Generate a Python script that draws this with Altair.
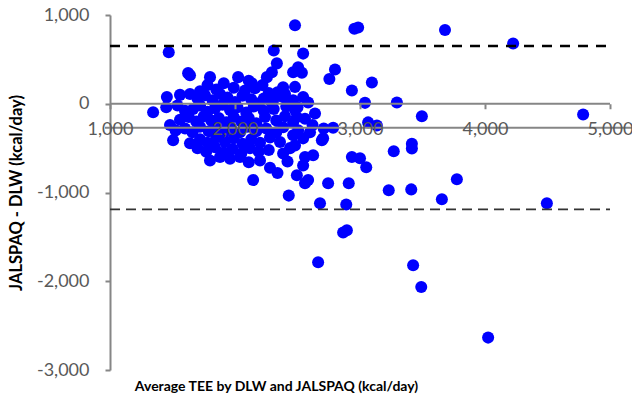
import altair as alt
import pandas as pd

# Bland-Altman data: average TEE (x) and difference JALSPAQ - DLW (y)
avg_tee = [
    2480, 2955, 2985, 3680, 4225, 4785, 3495, 3295, 3095, 2935, 3040, 2800, 2755, 2545, 2310,
    1470, 1625, 3065, 3135, 2785, 2695, 2640, 3270, 3415, 3415, 2935, 3000, 3050, 2745, 2910,
    3230, 3410, 3775, 3655, 2680, 2890, 2495, 2560, 2585, 2560, 2625, 2545, 2430, 2465, 2440,
    2705, 2865, 2895, 2665, 3425, 3490, 4025, 4495, 2145,
    2255, 2295, 2335, 2465, 2505, 2535, 2385, 2480, 2305, 2385, 2465, 2545, 2585, 2480, 2135,
    2160, 2025, 1800, 1640, 2500, 2545, 2465, 2505, 2480, 2600, 2620, 2710, 2495,
    1720, 1780, 1850, 1910, 1990, 2080, 2110, 2220, 2270, 2340, 2400, 2290, 2230,
    1455, 1560, 1640, 1700, 1760, 1820, 1880, 1940, 2000, 2060, 2130, 2190,
    1345, 1450, 1540, 1600, 1665, 1720, 1780, 1840, 1900, 1960, 2020, 2090, 2150, 2230, 2310, 2410,
    1480, 1560, 1630, 1690, 1750, 1810, 1870, 1930, 1990, 2050, 2110, 2170, 2240, 2330, 2400, 2560,
    1525, 1600, 1660, 1720, 1790, 1850, 1910, 1970, 2040, 2100, 2170, 2250, 2330, 2385,
    1505, 1640, 1720, 1780, 1850, 1920, 1990, 2060, 2130, 2200, 2280, 2360,
    1700, 1770, 1840, 1910, 1980, 2050, 2120, 2190, 2270, 2385,
    1800, 1880, 1960, 2040, 2110, 2200, 2280, 2340, 2420,
]
diff = [
    885, 845, 860, 830, 680, -120, -140, 15, 240, 150, 10, 385, 280, 565, 600,
    580, 345, -210, -245, -270, -410, -110, -535, -450, -505, -600, -615, -715, -895, -895,
    -975, -965, -850, -1075, -1120, -1135, -805, -895, -860, -600, -580, -695, -1035, -355, -500,
    -390, -1450, -1425, -1785, -1820, -2065, -2635, -1120, -860,
    300, 355, 455, 355, 410, 350, 185, 190, 40, 75, 40, 75, 15, -70, 230,
    175, 300, 300, 320, -40, -390, -210, -300, -470, -320, -240, -280, -150,
    140, 210, 160, 230, 180, 150, 260, 210, 120, 130, 110, 20, 60,
    75, 100, 110, 60, 95, 40, 110, 70, 20, 90, 50, 5,
    -95, -40, -20, -80, -60, -20, -90, -50, -10, -70, -40, -100, -30, -80, -60, -30,
    -240, -180, -150, -200, -140, -190, -160, -210, -150, -200, -160, -220, -150, -190, -140, -170,
    -300, -280, -320, -260, -310, -270, -330, -280, -320, -260, -310, -280, -320, -265,
    -410, -445, -400, -440, -380, -430, -390, -450, -400, -440, -380, -430,
    -500, -540, -490, -550, -510, -560, -500, -540, -520, -560,
    -640, -600, -620, -600, -660, -640, -720, -780, -650,
]

upper_loa = 651
lower_loa = -1191
mean_bias = -270
loa_x = [1000, 5000]
bias_x = [960, 5176]
x_ticks = [1000, 2000, 3000, 4000, 5000]
y_ticks = [-3000, -2000, -1000, 0, 1000]

pts = pd.DataFrame({"x": avg_tee, "y": diff})
rules = pd.DataFrame({
    "kind": ["zero", "bias", "upper", "lower"],
    "x": [loa_x[0], bias_x[0], loa_x[0], loa_x[0]],
    "x2": [loa_x[1], bias_x[1], loa_x[1], loa_x[1]],
    "y": [0, mean_bias, upper_loa, lower_loa],
})

# x scale spans the bias line's extent at 0.125 px per kcal/day
W, H = 527, 355
FONT = "Lato"
GREY = "#868686"
neg_fix = "datum.value < 0 ? '-' + format(-datum.value, ',') : format(datum.value, ',')"

xscale = alt.Scale(domain=bias_x, nice=False, zero=False)
yscale = alt.Scale(domain=[-3000, 1000], nice=False, zero=False)

xaxis = alt.Axis(
    values=x_ticks, orient="bottom", offset=-(H * 3000 / 4000), domain=False,
    ticks=True, tickSize=5, tickColor=GREY, tickWidth=2, grid=False,
    labelExpr=neg_fix, labelFont=FONT, labelFontSize=18, labelColor="#595959",
    labelPadding=12, labelFlush=False, labelOverlap=False,
    title="Average TEE by DLW and JALSPAQ (kcal/day)", titleFont=FONT,
    titleFontSize=14, titleFontWeight="bold", titleColor="#000000",
    titleX=171, titleY=283, titleAlign="center", titleBaseline="middle", zindex=1,
)
yaxis = alt.Axis(
    values=y_ticks, offset=-5, domainColor=GREY, domainWidth=2, tickColor=GREY, tickWidth=2,
    tickSize=5, grid=False, labelExpr=neg_fix, labelFont=FONT, labelFontSize=18,
    labelColor="#595959", labelPadding=16, labelFlush=False, labelOverlap=False,
    title="JALSPAQ - DLW (kcal/day)", titleFont=FONT, titleFontSize=16.5,
    titleFontWeight="bold", titleColor="#000000", titleX=-94, titleY=177.5,
    titleAngle=270, titleAlign="center", titleBaseline="middle",
)


def rule_layer(kind, **mark):
    return alt.Chart(rules).transform_filter(
        alt.datum.kind == kind
    ).mark_rule(**mark).encode(
        x=alt.X("x:Q", scale=xscale),
        x2="x2:Q",
        y=alt.Y("y:Q", scale=yscale),
    )


zero_line = rule_layer("zero", color=GREY, strokeWidth=2)
bias_line = rule_layer("bias", color=GREY, strokeWidth=2)
up_line = rule_layer("upper", color="#000000", strokeWidth=2.5, strokeDash=[10, 8])
lo_line = rule_layer("lower", color="#333333", strokeWidth=1.8, strokeDash=[10, 6])

points = alt.Chart(pts).mark_circle(size=145, color="#0000FF", opacity=1).encode(
    x=alt.X("x:Q", scale=xscale, axis=xaxis),
    y=alt.Y("y:Q", scale=yscale, axis=yaxis),
)

chart = alt.layer(points, zero_line, bias_line, up_line, lo_line).properties(
    width=W, height=H,
    autosize=alt.AutoSizeParams(type="none"),
    padding={"left": 105, "top": 15, "right": 0, "bottom": 26},
    background="white",
).configure_view(stroke=None)

chart.save("out.html", embed_options={"renderer": "svg", "actions": False})
